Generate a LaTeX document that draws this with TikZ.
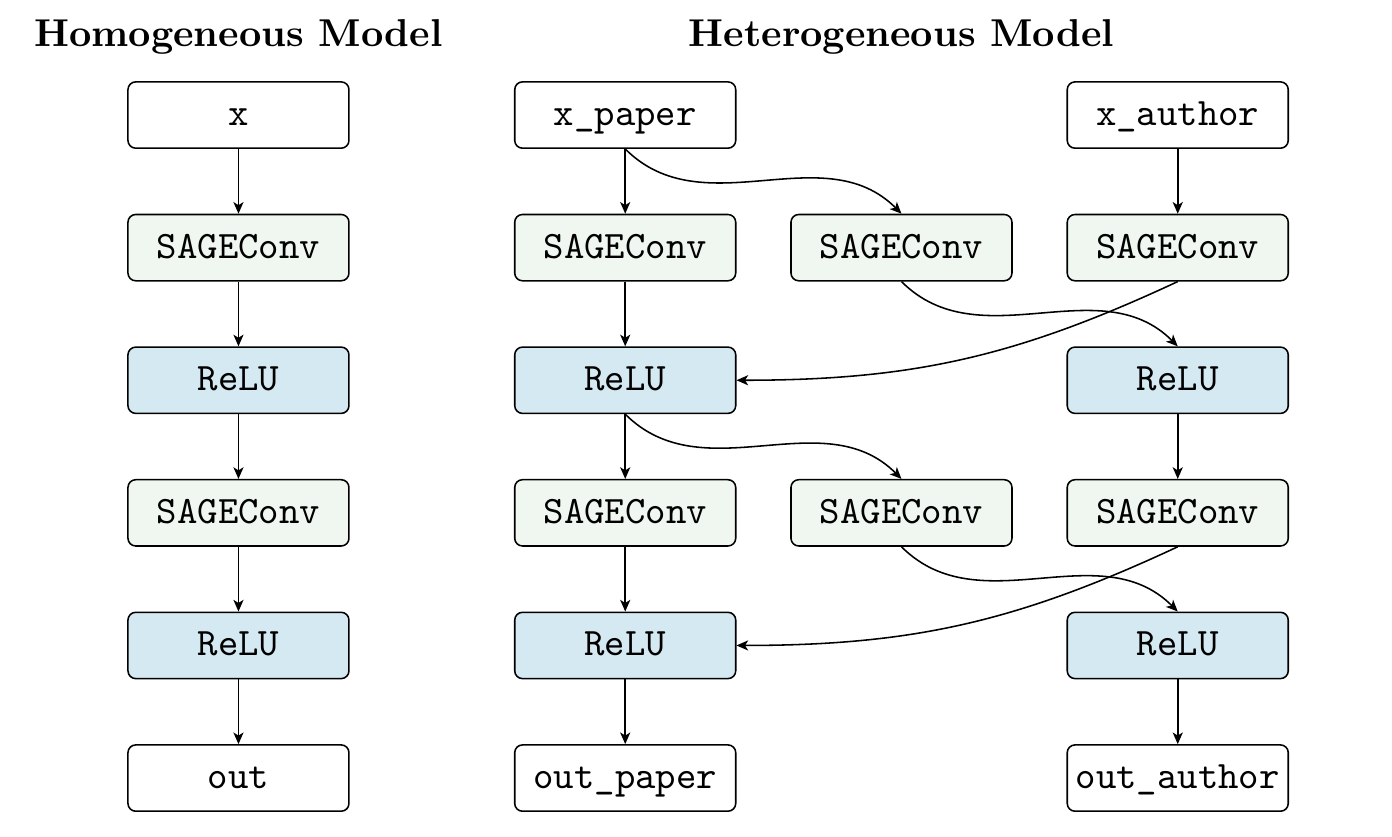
\documentclass[tikz,border=0pt]{standalone}
\usetikzlibrary{arrows.meta}
\definecolor{convgreen}{HTML}{EFF7F0}
\definecolor{relublue}{HTML}{D4E9F1}
\begin{document}
\begin{tikzpicture}[
		box/.style={draw,rounded corners=2pt,minimum width=2cm,minimum height=0.6cm,inner xsep=2pt,text height=1.5ex,text depth=.25ex,font=\ttfamily,fill=white},
		conv/.style={box,fill=convgreen},
		relu/.style={box,fill=relublue},
		arr/.style={-{Stealth[length=3pt,width=2.6pt,inset=0.8pt]}}]
			\useasboundingbox (-2.158,1.041) rectangle (10.439,-6.525);
			\node[font=\bfseries] (TH) at (0,0.71) {Homogeneous Model};
			\node[font=\bfseries] (TE) at (6,0.71) {Heterogeneous Model};
			
			% homogeneous
			\node[box] (HA) at (0,0) {x};
			\node[conv] (HB) at (0,-1.2) {SAGEConv};
			\node[relu] (HC) at (0,-2.4) {ReLU};
			\node[conv] (HD) at (0,-3.6) {SAGEConv};
			\node[relu] (HE) at (0,-4.8) {ReLU};
			\node[box] (HF) at (0,-6) {out};
			
			% heterogeneous
			\node[box] (PA) at (3.5,0) {x\_paper};
			\node[conv] (PB) at (3.5,-1.2) {SAGEConv};
			\node[relu] (PC) at (3.5,-2.4) {ReLU};
			\node[conv] (PD) at (3.5,-3.6) {SAGEConv};
			\node[relu] (PE) at (3.5,-4.8) {ReLU};
			\node[box] (PF) at (3.5,-6) {out\_paper};
			\node[conv] (MB) at (6,-1.2) {SAGEConv};
			\node[conv] (MD) at (6,-3.6) {SAGEConv};
			\node[box] (AA) at (8.5,0) {x\_author};
			\node[conv] (AB) at (8.5,-1.2) {SAGEConv};
			\node[relu] (AC) at (8.5,-2.4) {ReLU};
			\node[conv] (AD) at (8.5,-3.6) {SAGEConv};
			\node[relu] (AE) at (8.5,-4.8) {ReLU};
			\node[box] (AF) at (8.5,-6) {out\_author};
			
			\draw[arr] (HA)--(HB);
			\draw[arr] (HB)--(HC);
			\draw[arr] (HC)--(HD);
			\draw[arr] (HD)--(HE);
			\draw[arr] (HE)--(HF);
			
			\draw[arr] (PA)--(PB);
			\draw[arr] (PB)--(PC);
			\draw[arr] (PC)--(PD);
			\draw[arr] (PD)--(PE);
			\draw[arr] (PE)--(PF);
			\draw[arr] (AA)--(AB);
			\draw[arr] (AC)--(AD);
			\draw[arr] (AE)--(AF);
			\draw[arr] (PA.south) to[out=-45,in=135] (MB.north);
			\draw[arr] (MB.south) to[out=-45,in=135] (AC.north);
			\draw[arr] (AB.south) to[out=-155,in=0] (PC.east);
			\draw[arr] (PC.south) to[out=-45,in=135] (MD.north);
			\draw[arr] (MD.south) to[out=-45,in=135] (AE.north);
			\draw[arr] (AD.south) to[out=-155,in=0] (PE.east);
		\end{tikzpicture}
\end{document}
